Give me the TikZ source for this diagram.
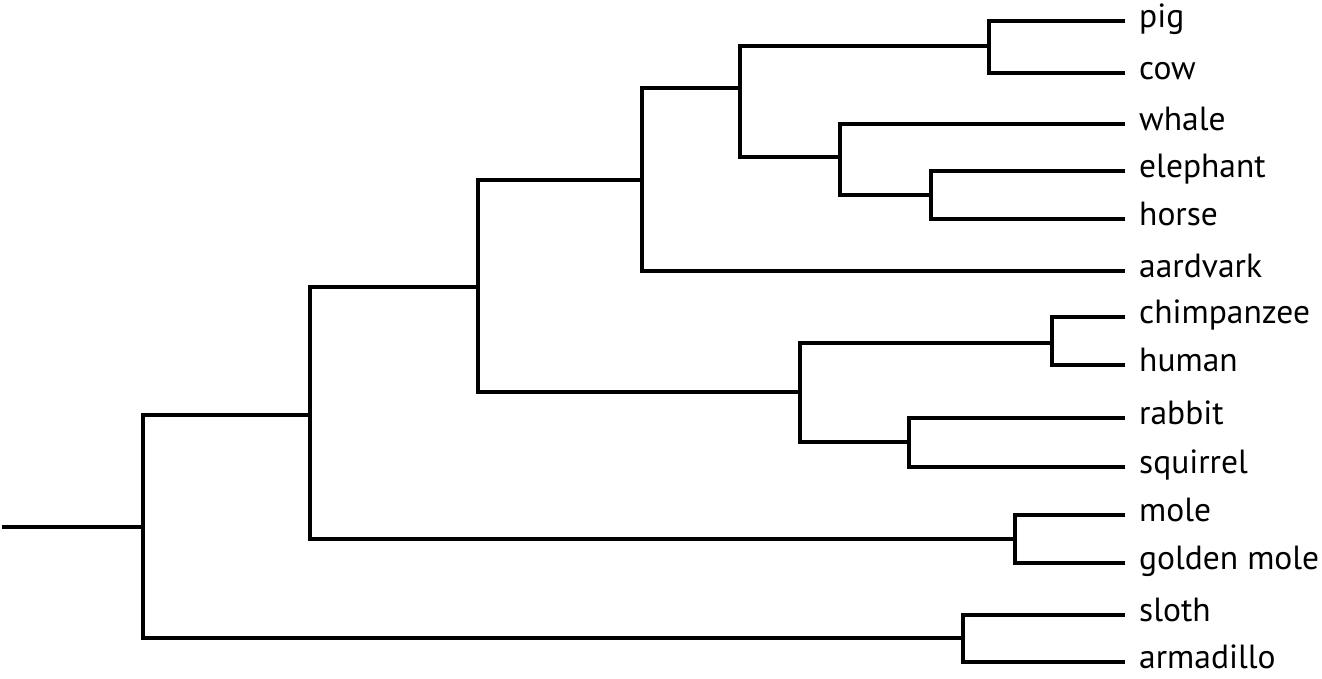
\documentclass[tikz,border=0pt]{standalone}
\usepackage{fontspec}
\setmainfont{PT Sans}
\begin{document}
\begin{tikzpicture}[x=1pt,y=-1pt,
  branch/.style={line width=3.2pt,line join=miter,line cap=butt},
  leaf/.style={anchor=west,inner xsep=14pt,inner ysep=0pt,text height=13pt,text depth=0pt,font=\fontsize{33.5}{38}\selectfont}]
\useasboundingbox (0,0) rectangle (1322,679);
% leaves
\node[leaf] (pig) at (1125,21) {pig};
\node[leaf] (cow) at (1125,73) {cow};
\node[leaf] (whale) at (1125,124) {whale};
\node[leaf] (elephant) at (1125,171) {elephant};
\node[leaf] (horse) at (1125,219) {horse};
\node[leaf] (aardvark) at (1125,271) {aardvark};
\node[leaf] (chimp) at (1125,317) {chimpanzee};
\node[leaf] (human) at (1125,365) {human};
\node[leaf] (rabbit) at (1125,418) {rabbit};
\node[leaf] (squirrel) at (1125,467) {squirrel};
\node[leaf] (mole) at (1125,515) {mole};
\node[leaf] (gmole) at (1125,563) {golden mole};
\node[leaf] (sloth) at (1125,615) {sloth};
\node[leaf] (armadillo) at (1125,662) {armadillo};
% internal nodes
\coordinate (pc) at (989,46);
\coordinate (eh) at (931,195);
\coordinate (weh) at (840,157);
\coordinate (pcweh) at (740,88);
\coordinate (ungul) at (642,180);
\coordinate (ch) at (1052,343);
\coordinate (rs) at (909,442);
\coordinate (eu) at (800,392);
\coordinate (bor) at (478,287);
\coordinate (mo) at (1015,539);
\coordinate (pla) at (310,415);
\coordinate (xen) at (963,638);
\coordinate (root) at (143,527);
\coordinate (start) at (2,527);
% branches
\draw[branch] (start) -- (root);
\draw[branch] (root) |- (pla);
\draw[branch] (root) |- (xen);
\draw[branch] (pla) |- (bor);
\draw[branch] (pla) |- (mo);
\draw[branch] (bor) |- (ungul);
\draw[branch] (bor) |- (eu);
\draw[branch] (ungul) |- (pcweh);
\draw[branch] (ungul) |- (aardvark.west);
\draw[branch] (pcweh) |- (pc);
\draw[branch] (pcweh) |- (weh);
\draw[branch] (pc) |- (pig.west);
\draw[branch] (pc) |- (cow.west);
\draw[branch] (weh) |- (whale.west);
\draw[branch] (weh) |- (eh);
\draw[branch] (eh) |- (elephant.west);
\draw[branch] (eh) |- (horse.west);
\draw[branch] (eu) |- (ch);
\draw[branch] (eu) |- (rs);
\draw[branch] (ch) |- (chimp.west);
\draw[branch] (ch) |- (human.west);
\draw[branch] (rs) |- (rabbit.west);
\draw[branch] (rs) |- (squirrel.west);
\draw[branch] (mo) |- (mole.west);
\draw[branch] (mo) |- (gmole.west);
\draw[branch] (xen) |- (sloth.west);
\draw[branch] (xen) |- (armadillo.west);
\end{tikzpicture}
\end{document}
